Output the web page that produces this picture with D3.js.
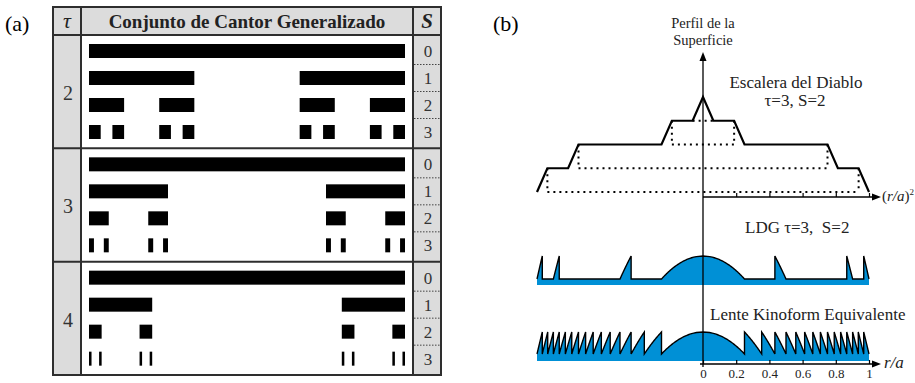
<!DOCTYPE html>
<html>
<head>
  <meta charset="utf-8">
  <title>Conjunto de Cantor Generalizado</title>
  <style type="text/css">
    body { margin: 0; background: #fff; }
    svg { display: block; font-family: "Liberation Serif", "DejaVu Serif", serif; }
  </style>
</head>
<body>

<div id="chart"></div>

<script src="https://d3js.org/d3.v7.min.js"></script>
<script type="text/javascript">
// data
var tauValues = [2, 3, 4];
var sLevels = [0, 1, 2, 3];
var stairIntervals = [[0, 1/16], [3/16, 4/16], [12/16, 13/16], [15/16, 1]]; // tau=3, S=2 in (r/a)^2
var kinoformZones = 16;
var tickValues = [0, 0.2, 0.4, 0.6, 0.8, 1];
var tickLabels = ["0", "0.2", "0.4", "0.6", "0.8", "1"];

var grey = "#dcdcdc", ink = "#2e2e2e", blue = "#0090d6";

var svg = d3.select("#chart")
  .append("svg")
  .attr("width", 915)
  .attr("height", 383);

// generalized cantor set, level s
function cantor(tau, s) {
  var segs = [[0, 1]];
  for (var i = 0; i < s; i++) {
    segs = segs.flatMap(function (d) {
      var w = (d[1] - d[0]) / (tau + 1);
      return [[d[0], d[0] + w], [d[1] - w, d[1]]];
    });
  }
  return segs;
}

// ---------- (a) ----------
var tb = {left: 53, tau: 81, main: 413, right: 441, top: 7, head: 35, bottom: 375};
var yGroup = d3.scaleBand().domain(tauValues).range([tb.head, tb.bottom]);
var yRow = d3.scaleLinear().domain([0, 3]).range([9, 90]);
var xBar = d3.scaleLinear().domain([0, 1]).range([89, 405]);

var ta = svg.append("g");
ta.append("rect")
  .attr("x", tb.left).attr("y", tb.top)
  .attr("width", tb.right - tb.left).attr("height", tb.bottom - tb.top)
  .attr("fill", grey);
ta.append("rect")
  .attr("x", tb.tau).attr("y", tb.head)
  .attr("width", tb.main - tb.tau).attr("height", tb.bottom - tb.head)
  .attr("fill", "#fff");

var grp = ta.selectAll("g.grp")
  .data(tauValues)
  .enter().append("g")
    .attr("class", "grp")
    .attr("transform", function (d) { return "translate(0," + yGroup(d) + ")"; });

grp.append("text")
  .attr("x", 68)
  .attr("y", yGroup.bandwidth() / 2 + 8.5)
  .attr("text-anchor", "middle")
  .attr("font-size", 20)
  .attr("fill", "#333")
  .text(function (d) { return d; });

grp.selectAll("rect.bar")
  .data(function (tau) {
    return sLevels.flatMap(function (s) {
      return cantor(tau, s).map(function (seg) { return {s: s, a: seg[0], b: seg[1]}; });
    });
  })
  .enter().append("rect")
    .attr("class", "bar")
    .attr("x", function (d) { return xBar(d.a); })
    .attr("width", function (d) { return xBar(d.b) - xBar(d.a); })
    .attr("y", function (d) { return yRow(d.s); })
    .attr("height", 14)
    .attr("fill", "#000");

grp.selectAll("text.s")
  .data(sLevels)
  .enter().append("text")
    .attr("class", "s")
    .attr("x", 428)
    .attr("y", function (d) { return yRow(d) + 13; })
    .attr("text-anchor", "middle")
    .attr("font-size", 17)
    .attr("fill", "#333")
    .text(function (d) { return d; });

grp.selectAll("line.sep")
  .data(sLevels.slice(1))
  .enter().append("line")
    .attr("x1", 414).attr("x2", 440)
    .attr("y1", function (d) { return yRow(d) - 6.5; })
    .attr("y2", function (d) { return yRow(d) - 6.5; })
    .attr("stroke", "#444")
    .attr("stroke-width", 1)
    .attr("stroke-dasharray", "1.5,1.5");

// grid
ta.append("rect")
  .attr("x", tb.left).attr("y", tb.top)
  .attr("width", tb.right - tb.left).attr("height", tb.bottom - tb.top)
  .attr("fill", "none").attr("stroke", ink).attr("stroke-width", 2);
[tb.tau, tb.main].forEach(function (x) {
  ta.append("line").attr("x1", x).attr("x2", x).attr("y1", tb.top).attr("y2", tb.bottom)
    .attr("stroke", ink).attr("stroke-width", 2);
});
[tb.head, yGroup(3), yGroup(4)].forEach(function (y) {
  ta.append("line").attr("x1", tb.left).attr("x2", tb.right).attr("y1", y).attr("y2", y)
    .attr("stroke", ink).attr("stroke-width", 2);
});

// header
ta.append("text").attr("x", 67).attr("y", 28).attr("text-anchor", "middle")
  .attr("font-size", 22).attr("font-style", "italic").attr("fill", "#222").text("τ");
ta.append("text").attr("x", (tb.tau + tb.main) / 2).attr("y", 28).attr("text-anchor", "middle")
  .attr("font-size", 19).attr("font-weight", "bold").attr("fill", "#222").text("Conjunto de Cantor Generalizado");
ta.append("text").attr("x", 427).attr("y", 28).attr("text-anchor", "middle")
  .attr("font-size", 21).attr("font-weight", "bold").attr("font-style", "italic").attr("fill", "#222").text("S");

svg.append("text").attr("x", 5).attr("y", 31).attr("font-size", 22).text("(a)");
svg.append("text").attr("x", 493).attr("y", 31).attr("font-size", 22).text("(b)");

// ---------- (b) ----------
var xs = d3.scaleLinear().domain([0, 1]).range([703, 869]);
var yS = d3.scaleLinear().domain([0, 4]).range([192, 97]);
var yL = d3.scaleLinear().domain([0, 1]).range([279, 256]);
var yK = d3.scaleLinear().domain([0, 1]).range([354, 332]);

var tb2 = svg.append("g");

// devil's staircase
var stairPts = [[0, 4]];
stairIntervals.forEach(function (iv, k) {
  if (iv[0] > 0) stairPts.push([iv[0], 4 - k]);
  stairPts.push([iv[1], 3 - k]);
});
var stairAll = stairPts.map(function (p) { return [-p[0], p[1]]; }).reverse().concat(stairPts.slice(1));

var dotted = tb2.append("g")
  .attr("stroke", "#000").attr("stroke-width", 2).attr("stroke-dasharray", "2,4").attr("fill", "none");
stairIntervals.forEach(function (iv, k) {
  var a = iv[0] > 0 ? iv[0] : iv[1];
  dotted.append("line")
    .attr("x1", xs(-a)).attr("x2", xs(a))
    .attr("y1", yS(3 - k)).attr("y2", yS(3 - k));
  if (iv[0] > 0) {
    [-a, a].forEach(function (z) {
      dotted.append("line")
        .attr("x1", xs(z)).attr("x2", xs(z))
        .attr("y1", yS(4 - k)).attr("y2", yS(3 - k));
    });
  }
});

tb2.append("path")
  .datum(stairAll)
  .attr("d", d3.line().x(function (d) { return xs(d[0]); }).y(function (d) { return yS(d[1]); }))
  .attr("fill", "none")
  .attr("stroke", "#000")
  .attr("stroke-width", 2.2)
  .attr("stroke-linejoin", "miter");

// phase profiles vs r/a, sawtooth on each interval of (r/a)^2
function profile(intervals) {
  var pts = [];
  intervals.forEach(function (iv) {
    var a = iv[0], b = iv[1];
    if (a > 0) pts.push([Math.sqrt(a), 0]);
    d3.range(0, 41).forEach(function (i) {
      pts.push([Math.sqrt(a + (b - a) * i / 40), 1 - i / 40]);
    });
  });
  if (intervals[intervals.length - 1][1] < 1) pts.push([1, 0]);
  return pts.map(function (p) { return [-p[0], p[1]]; }).reverse().concat(pts.slice(1));
}

var kinoIntervals = d3.range(kinoformZones).map(function (k) {
  return [k / kinoformZones, (k + 1) / kinoformZones];
});

function drawProfile(pts, y, bottom) {
  tb2.append("path")
    .datum(pts)
    .attr("d", d3.area().x(function (d) { return xs(d[0]); }).y0(bottom).y1(function (d) { return y(d[1]); }))
    .attr("fill", blue);
  tb2.append("path")
    .datum(pts)
    .attr("d", d3.line().x(function (d) { return xs(d[0]); }).y(function (d) { return y(d[1]); }))
    .attr("fill", "none")
    .attr("stroke", "#000")
    .attr("stroke-width", 1.4);
}
drawProfile(profile(stairIntervals), yL, 285);
drawProfile(profile(kinoIntervals), yK, 361);

// axes
var ax = tb2.append("g").attr("stroke", "#000").attr("stroke-width", 1.3);
ax.append("line").attr("x1", 703).attr("x2", 703).attr("y1", 367).attr("y2", 60);
ax.append("line").attr("x1", 703).attr("x2", 874).attr("y1", 197).attr("y2", 197);
ax.append("line").attr("x1", 700).attr("x2", 874).attr("y1", 364).attr("y2", 364);
tb2.append("path").attr("d", "M703,52 L699.5,61 L706.5,61 Z").attr("fill", "#000");
tb2.append("path").attr("d", "M881,197 L872,193.5 L872,200.5 Z").attr("fill", "#000");
tb2.append("path").attr("d", "M881,364 L872,360.5 L872,367.5 Z").attr("fill", "#000");

var topAxis = tb2.append("g")
  .attr("transform", "translate(0,197)")
  .call(d3.axisBottom(xs).tickValues(tickValues.slice(1)).tickSize(-4).tickFormat(""));
topAxis.select(".domain").remove();

var botAxis = tb2.append("g")
  .attr("transform", "translate(0,364)")
  .call(d3.axisBottom(xs).tickValues(tickValues).tickSize(-4).tickPadding(5)
    .tickFormat(function (d, i) { return tickLabels[i]; }));
botAxis.select(".domain").remove();
botAxis.attr("font-family", null).attr("font-size", 13);
botAxis.selectAll("text").attr("fill", "#222");
[topAxis, botAxis].forEach(function (g) {
  g.selectAll("line").attr("stroke", "#000").attr("stroke-width", 1.2);
});

// labels
var lab = tb2.append("g").attr("fill", "#222");
lab.append("text").attr("x", 703).attr("y", 28).attr("text-anchor", "middle").attr("font-size", 14.5).text("Perfil de la");
lab.append("text").attr("x", 703).attr("y", 45).attr("text-anchor", "middle").attr("font-size", 14.5).text("Superficie");
lab.append("text").attr("x", 796).attr("y", 88).attr("text-anchor", "middle").attr("font-size", 17).text("Escalera del Diablo");
lab.append("text").attr("x", 795).attr("y", 106).attr("text-anchor", "middle").attr("font-size", 17).text("τ=3, S=2");
lab.append("text").attr("x", 745).attr("y", 233).attr("font-size", 17)
  .style("white-space", "pre").text("LDG τ=3,  S=2");
lab.append("text").attr("x", 710).attr("y", 320).attr("font-size", 17).text("Lente Kinoform Equivalente");

var ra2 = lab.append("text").attr("x", 882).attr("y", 201).attr("font-size", 15);
ra2.append("tspan").text("(");
ra2.append("tspan").attr("font-style", "italic").text("r/a");
ra2.append("tspan").text(")");
ra2.append("tspan").attr("font-size", 9).attr("dy", -6).text("2");

lab.append("text").attr("x", 884).attr("y", 368).attr("font-size", 17)
  .attr("font-style", "italic").text("r/a");
</script>
</body>
</html>
